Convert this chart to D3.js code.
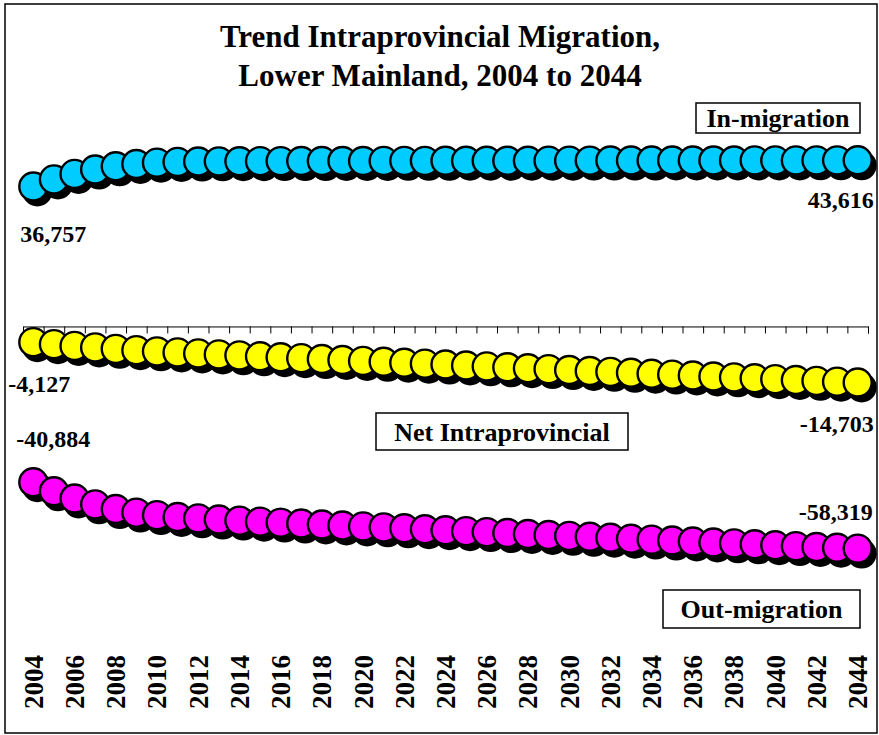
<!DOCTYPE html>
<html>
<head>
<meta charset="utf-8">
<script src="https://cdn.jsdelivr.net/npm/d3@7"></script>
<style>
  body { margin: 0; background: #fff; }
  text { font-family: "Liberation Serif", "Times New Roman", serif; font-weight: bold; fill: #000; }
</style>
</head>
<body>
<div id="chart"></div>
<script>
const years = d3.range(2004, 2045);
const yearLabels = years.filter(y => y % 2 === 0);

const inMigration = [36757, 38600, 40050, 41200, 42050, 42650, 43000, 43200, 43300, 43350,
    43380, 43400, 43410, 43420, 43430, 43440, 43450, 43460, 43470, 43480,
    43490, 43500, 43505, 43510, 43520, 43530, 43535, 43540, 43550, 43555,
    43560, 43570, 43575, 43580, 43585, 43590, 43595, 43600, 43605, 43610, 43616];

const netMigration = [-4127, -4650, -5100, -5500, -5880, -6220, -6530, -6810, -7080, -7340,
    -7590, -7840, -8080, -8320, -8560, -8800, -9040, -9280, -9520, -9760,
    -10000, -10240, -10480, -10720, -10960, -11200, -11440, -11680, -11920, -12160,
    -12400, -12640, -12880, -13120, -13360, -13600, -13840, -14060, -14280, -14490, -14703];

const outMigration = [-40884, -43250, -45150, -46700, -47930, -48870, -49530, -50010, -50380, -50690,
    -50970, -51240, -51490, -51740, -51990, -52240, -52490, -52740, -52990, -53240,
    -53490, -53740, -53985, -54230, -54480, -54730, -54975, -55220, -55470, -55715,
    -55960, -56210, -56455, -56700, -56945, -57190, -57435, -57660, -57885, -58100, -58319];

const width = 879;
const height = 735;
const plot = { left: 23, right: 868, top: 136, bottom: 555 };

const svg = d3.select("#chart").append("svg")
    .attr("width", width)
    .attr("height", height);

// chart border
svg.append("rect")
    .attr("x", 5).attr("y", 4)
    .attr("width", 872).attr("height", 729)
    .attr("fill", "#fff")
    .attr("stroke", "#000")
    .attr("stroke-width", 1.5);

// title
svg.append("text")
    .attr("x", 440).attr("y", 47)
    .attr("text-anchor", "middle")
    .style("font-size", "31px")
    .text("Trend Intraprovincial Migration,");
svg.append("text")
    .attr("x", 440).attr("y", 86)
    .attr("text-anchor", "middle")
    .style("font-size", "31px")
    .text("Lower Mainland, 2004 to 2044");

const x = d3.scaleBand()
    .domain(years)
    .range([plot.left, plot.right])
    .padding(0);
const cx = d => x(d) + x.bandwidth() / 2;

const y = d3.scaleLinear()
    .domain([-60000, 50000])
    .range([plot.bottom, plot.top]);

// zero axis, ticks sit between categories
const edges = d3.scaleLinear()
    .domain([0, years.length])
    .range([plot.left, plot.right]);

svg.append("g")
    .attr("class", "axis zero")
    .attr("transform", `translate(0, ${y(0)})`)
    .call(d3.axisBottom(edges)
        .tickValues(d3.range(years.length + 1))
        .tickSize(7)
        .tickFormat(""))
    .call(g => g.selectAll("line, path").attr("stroke", "#000").attr("stroke-width", 1));

// year labels along the bottom
svg.append("g")
    .selectAll("text.year")
    .data(yearLabels)
    .enter()
    .append("text")
    .attr("class", "year")
    .attr("transform", d => `translate(${cx(d)}, 655) rotate(-90)`)
    .attr("text-anchor", "end")
    .attr("dy", "0.35em")
    .style("font-size", "27px")
    .text(d => d);

const series = [
    { name: "in", values: inMigration, colour: "#00CCFF" },
    { name: "net", values: netMigration, colour: "#FFFF00" },
    { name: "out", values: outMigration, colour: "#FF00FF" }
];

const r = 14;

series.forEach(s => {
    const pts = years.map((yr, i) => ({ year: yr, value: s.values[i] }));
    const marks = svg.append("g").attr("class", "series " + s.name)
        .selectAll("g.mark")
        .data(pts)
        .enter()
        .append("g")
        .attr("class", "mark");

    // drop shadow
    marks.append("circle")
        .attr("cx", d => cx(d.year) + 4)
        .attr("cy", d => y(d.value) + 5)
        .attr("r", r + 1)
        .attr("fill", "#000");

    marks.append("circle")
        .attr("cx", d => cx(d.year))
        .attr("cy", d => y(d.value))
        .attr("r", r)
        .attr("fill", s.colour)
        .attr("stroke", "#000")
        .attr("stroke-width", 2.4);
});

// data labels on first and last points (plain hyphen minus)
const fmt = d3.formatLocale({ decimal: ".", thousands: ",", grouping: [3], currency: ["$", ""], minus: "-" }).format(",");
const first = years[0];
const last = years[years.length - 1];
const n = years.length - 1;

const dataLabels = [
    { text: fmt(inMigration[0]), x: cx(first) - 13, y: y(inMigration[0]) + 56, anchor: "start" },
    { text: fmt(inMigration[n]), x: cx(last) + 16, y: y(inMigration[n]) + 48, anchor: "end" },
    { text: fmt(netMigration[0]), x: cx(first) - 25, y: y(netMigration[0]) + 50, anchor: "start" },
    { text: fmt(netMigration[n]), x: cx(last) + 16, y: y(netMigration[n]) + 50, anchor: "end" },
    { text: fmt(outMigration[0]), x: cx(first) - 17, y: y(outMigration[0]) - 35, anchor: "start" },
    { text: fmt(outMigration[n]), x: cx(last) + 15, y: y(outMigration[n]) - 29, anchor: "end" }
];

svg.selectAll("text.valueLabel")
    .data(dataLabels)
    .enter()
    .append("text")
    .attr("class", "valueLabel")
    .attr("x", d => d.x)
    .attr("y", d => d.y)
    .attr("text-anchor", d => d.anchor)
    .style("font-size", "24px")
    .text(d => d.text);

// series name boxes
const legends = [
    { text: "In-migration", x: 696, y: 103, w: 164, h: 30 },
    { text: "Net Intraprovincial", x: 376, y: 413, w: 252, h: 37 },
    { text: "Out-migration", x: 663, y: 590, w: 197, h: 38 }
];

const lg = svg.selectAll("g.legend")
    .data(legends)
    .enter()
    .append("g")
    .attr("class", "legend");

lg.append("rect")
    .attr("x", d => d.x)
    .attr("y", d => d.y)
    .attr("width", d => d.w)
    .attr("height", d => d.h)
    .attr("fill", "#fff")
    .attr("stroke", "#000")
    .attr("stroke-width", 1.5);

lg.append("text")
    .attr("x", d => d.x + d.w / 2)
    .attr("y", d => d.y + d.h / 2 + 9)
    .attr("text-anchor", "middle")
    .style("font-size", "26px")
    .text(d => d.text);
</script>
</body>
</html>
